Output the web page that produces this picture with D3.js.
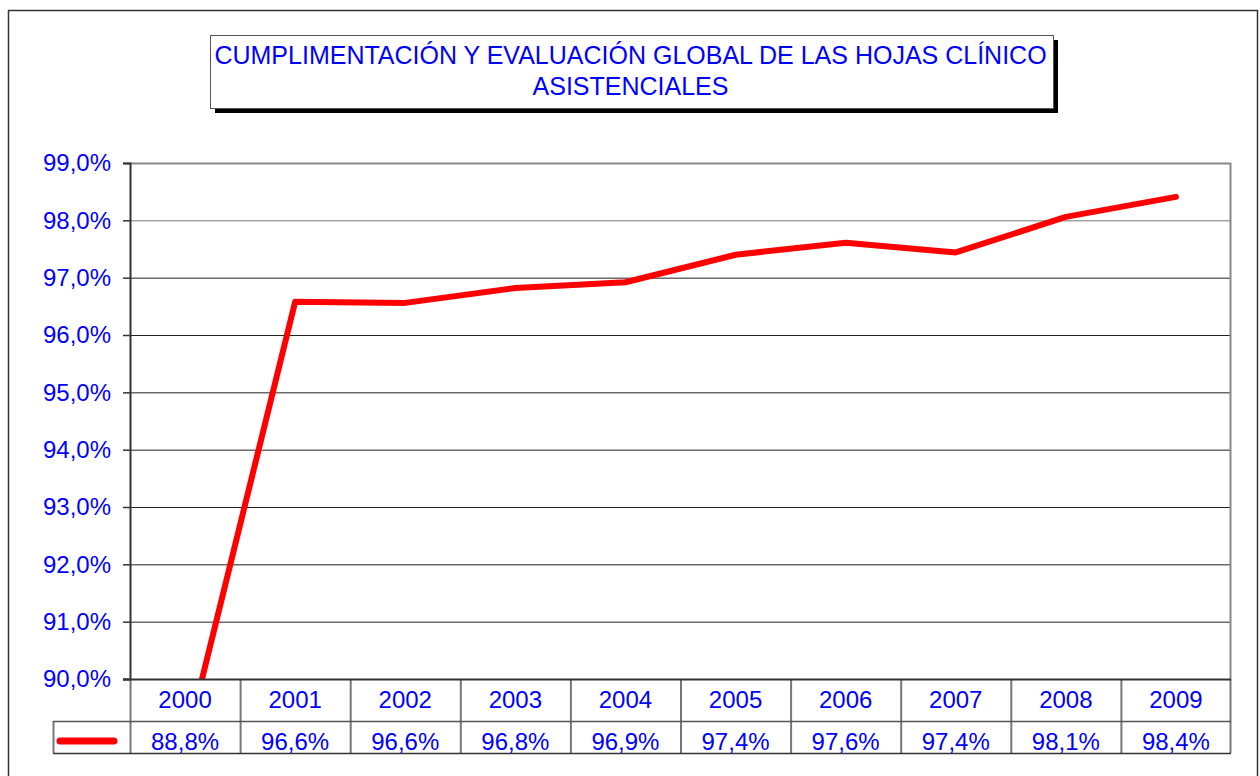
<!DOCTYPE html>
<html>
<head>
<meta charset="utf-8">
<script src="https://cdn.jsdelivr.net/npm/d3@7"></script>
<style>
  body { margin: 0; background: #fff; }
  svg text { font-family: "Liberation Sans", Arial, sans-serif; fill: #0000ff; }
</style>
</head>
<body>
<div class="chart"></div>
<script>
// data
const years = ["2000", "2001", "2002", "2003", "2004", "2005", "2006", "2007", "2008", "2009"];
const values = [88.8, 96.58, 96.56, 96.82, 96.92, 97.40, 97.61, 97.44, 98.06, 98.41];
const yTicks = [90, 91, 92, 93, 94, 95, 96, 97, 98, 99];
const titleLines = ["CUMPLIMENTACIÓN Y EVALUACIÓN GLOBAL DE LAS HOJAS CLÍNICO", "ASISTENCIALES"];

const W = 1260, H = 776;
const plot = { left: 130, top: 163, right: 1231, bottom: 679 };
const rowH1 = 42, rowH2 = 32;
const fmt = v => d3.format(".1f")(v).replace(".", ",") + "%";

let svg = d3.select(".chart")
  .append("svg")
    .attr("width", W)
    .attr("height", H);

// outer border
svg.append("rect")
  .attr("x", 8.5).attr("y", 10.5)
  .attr("width", 1249).attr("height", 780)
  .attr("fill", "none")
  .attr("stroke", "#333")
  .attr("stroke-width", 1.5);

// title box with shadow
let tb = { x: 210, y: 35, w: 843, h: 73 };
svg.append("rect")
  .attr("x", tb.x + 5).attr("y", tb.y + 5)
  .attr("width", tb.w).attr("height", tb.h)
  .attr("fill", "#000");
svg.append("rect")
  .attr("x", tb.x + 0.5).attr("y", tb.y + 0.5)
  .attr("width", tb.w).attr("height", tb.h)
  .attr("fill", "#fff")
  .attr("stroke", "#555");
svg.selectAll(".title")
  .data(titleLines)
  .enter().append("text")
    .attr("class", "title")
    .attr("x", tb.x + tb.w / 2 - 1)
    .attr("y", (d, i) => 64 + i * 31)
    .attr("text-anchor", "middle")
    .style("font-size", "25px")
    .text(d => d);

// scales
let x = d3.scaleBand()
  .domain(years)
  .range([plot.left, plot.right]);

let y = d3.scaleLinear()
  .domain([90, 99])
  .range([plot.bottom, plot.top]);

// grid lines
svg.append("g")
  .selectAll("line")
  .data(yTicks.slice(1, -1))
  .enter().append("line")
    .attr("x1", plot.left).attr("x2", plot.right)
    .attr("y1", d => y(d) + 0.5).attr("y2", d => y(d) + 0.5)
    .attr("stroke", d => d == 98 ? "#777" : "#222")
    .attr("stroke-width", 1);

// plot border top/right
svg.append("path")
  .attr("d", `M${plot.left},${plot.top + 0.5}H${plot.right - 0.5}V${plot.bottom}`)
  .attr("fill", "none")
  .attr("stroke", "#888")
  .attr("stroke-width", 2);

// y axis
let yAxis = svg.append("g")
  .attr("id", "y-axis")
  .attr("transform", "translate(" + plot.left + ",0)")
  .call(d3.axisLeft(y).tickValues(yTicks).tickSize(7).tickPadding(12).tickFormat(fmt));
yAxis.select(".domain").attr("stroke", "#333").attr("stroke-width", 2);
yAxis.selectAll(".tick line").attr("stroke", "#333").attr("stroke-width", 1.5);
yAxis.selectAll(".tick text")
  .style("font-size", "24px")
  .style("font-family", "'Liberation Sans', Arial, sans-serif")
  .attr("fill", "#0000ff");

// line (clipped to plot)
svg.append("clipPath")
  .attr("id", "clip")
  .append("rect")
    .attr("x", plot.left).attr("y", plot.top - 10)
    .attr("width", plot.right - plot.left).attr("height", plot.bottom - plot.top + 10);

let line = d3.line()
  .x((d, i) => x(years[i]) + x.bandwidth() / 2)
  .y(d => y(d));

svg.append("path")
  .datum(values)
  .attr("clip-path", "url(#clip)")
  .attr("fill", "none")
  .attr("stroke", "#ff0000")
  .attr("stroke-width", 6)
  .attr("stroke-linejoin", "round")
  .attr("stroke-linecap", "round")
  .attr("d", line);

// data table
let table = svg.append("g").attr("id", "table");
let tBottom = plot.bottom + rowH1 + rowH2;
let legendLeft = 53;

// vertical cell lines
table.selectAll(".vline")
  .data(years.concat(["end"]))
  .enter().append("line")
    .attr("x1", d => d == "end" ? plot.right - 0.5 : x(d) + 0.5)
    .attr("x2", d => d == "end" ? plot.right - 0.5 : x(d) + 0.5)
    .attr("y1", plot.bottom)
    .attr("y2", tBottom)
    .attr("stroke", "#777")
    .attr("stroke-width", 2);

table.append("line")
  .attr("x1", legendLeft + 0.5).attr("x2", legendLeft + 0.5)
  .attr("y1", plot.bottom + rowH1).attr("y2", tBottom)
  .attr("stroke", "#777").attr("stroke-width", 2);

table.append("line")
  .attr("x1", legendLeft).attr("x2", plot.right)
  .attr("y1", plot.bottom + rowH1 + 0.5).attr("y2", plot.bottom + rowH1 + 0.5)
  .attr("stroke", "#555").attr("stroke-width", 1.5);

table.append("line")
  .attr("x1", legendLeft).attr("x2", plot.right)
  .attr("y1", tBottom + 0.5).attr("y2", tBottom + 0.5)
  .attr("stroke", "#333").attr("stroke-width", 1.5);

// x axis line
svg.append("line")
  .attr("x1", plot.left - 7).attr("x2", plot.right)
  .attr("y1", plot.bottom + 0.5).attr("y2", plot.bottom + 0.5)
  .attr("stroke", "#333").attr("stroke-width", 2);

table.selectAll(".year")
  .data(years)
  .enter().append("text")
    .attr("x", d => x(d) + x.bandwidth() / 2)
    .attr("y", plot.bottom + 29)
    .attr("text-anchor", "middle")
    .style("font-size", "24px")
    .text(d => d);

table.selectAll(".val")
  .data(values)
  .enter().append("text")
    .attr("x", (d, i) => x(years[i]) + x.bandwidth() / 2)
    .attr("y", tBottom - 3)
    .attr("text-anchor", "middle")
    .style("font-size", "24px")
    .text(d => fmt(d));

// legend key
table.append("line")
  .attr("x1", 60).attr("x2", 114)
  .attr("y1", plot.bottom + rowH1 + 20).attr("y2", plot.bottom + rowH1 + 20)
  .attr("stroke", "#ff0000")
  .attr("stroke-width", 7)
  .attr("stroke-linecap", "round");
</script>
</body>
</html>
